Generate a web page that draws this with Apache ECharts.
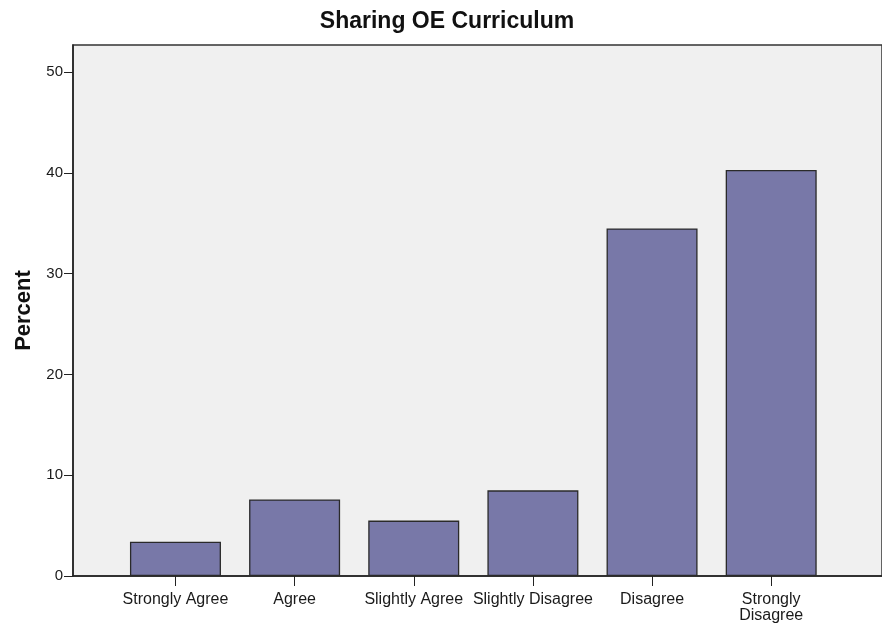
<!DOCTYPE html>
<html>
<head>
<meta charset="utf-8">
<script src="https://cdn.jsdelivr.net/npm/echarts@6/dist/echarts.min.js"></script>
<style>
  html, body { margin: 0; padding: 0; background: #fff; }
  #main { width: 882px; height: 624px; }
</style>
</head>
<body>
<div id="main"></div>
<script>
// answer categories (x axis labels)
var categories = ['Strongly Agree', 'Agree', 'Slightly Agree', 'Slightly Disagree', 'Disagree', 'Strongly\nDisagree'];
// percent of responses
var percents = [3.4, 7.6, 5.5, 8.5, 34.5, 40.3];
var yTicks = [0, 10, 20, 30, 40, 50];

var chart = echarts.init(document.getElementById('main'));

var positions = categories.map(function (c, i) { return i; });
var barData = percents.map(function (v, i) { return [i, v]; });

var option = {
    animation: false,
    title: {
        text: 'Sharing OE Curriculum',
        left: 442,
        textAlign: 'center',
        top: 5,
        textStyle: { fontFamily: 'Liberation Sans', fontSize: 23, fontWeight: 'bold', color: '#111' }
    },
    grid: {
        left: 73, top: 45, right: -4, bottom: 47,
        show: true,
        backgroundColor: '#f0f0f0',
        borderColor: '#333',
        borderWidth: 1.5
    },
    xAxis: {
        type: 'value',
        min: -0.86,
        max: 5.93,
        splitLine: { show: false },
        axisLine: { show: true, onZero: false, lineStyle: { color: '#222', width: 1.5 } },
        axisTick: { show: true, customValues: positions, length: 10, lineStyle: { color: '#222' } },
        axisLabel: {
            customValues: positions,
            formatter: function (v) { return categories[Math.round(v)]; },
            fontFamily: 'Liberation Sans', fontSize: 16, color: '#1a1a1a',
            margin: 16, lineHeight: 16
        }
    },
    yAxis: {
        type: 'value',
        min: 0,
        max: 52.7,
        name: 'Percent',
        nameLocation: 'middle',
        nameGap: 29,
        nameTextStyle: { fontFamily: 'Liberation Sans', fontSize: 22, fontWeight: 'bold', color: '#111' },
        splitLine: { show: false },
        axisLine: { show: true, onZero: false, lineStyle: { color: '#222', width: 1.5 } },
        axisTick: { show: true, customValues: yTicks, length: 9, lineStyle: { color: '#222' } },
        axisLabel: {
            customValues: yTicks,
            fontFamily: 'Liberation Sans', fontSize: 15, color: '#1a1a1a', margin: 10
        }
    },
    series: [{
        type: 'bar',
        data: barData,
        barWidth: 91,
        itemStyle: { color: '#7878a8', borderColor: '#2a2a2a', borderWidth: 1.3 }
    }]
};

chart.setOption(option);
</script>
</body>
</html>
